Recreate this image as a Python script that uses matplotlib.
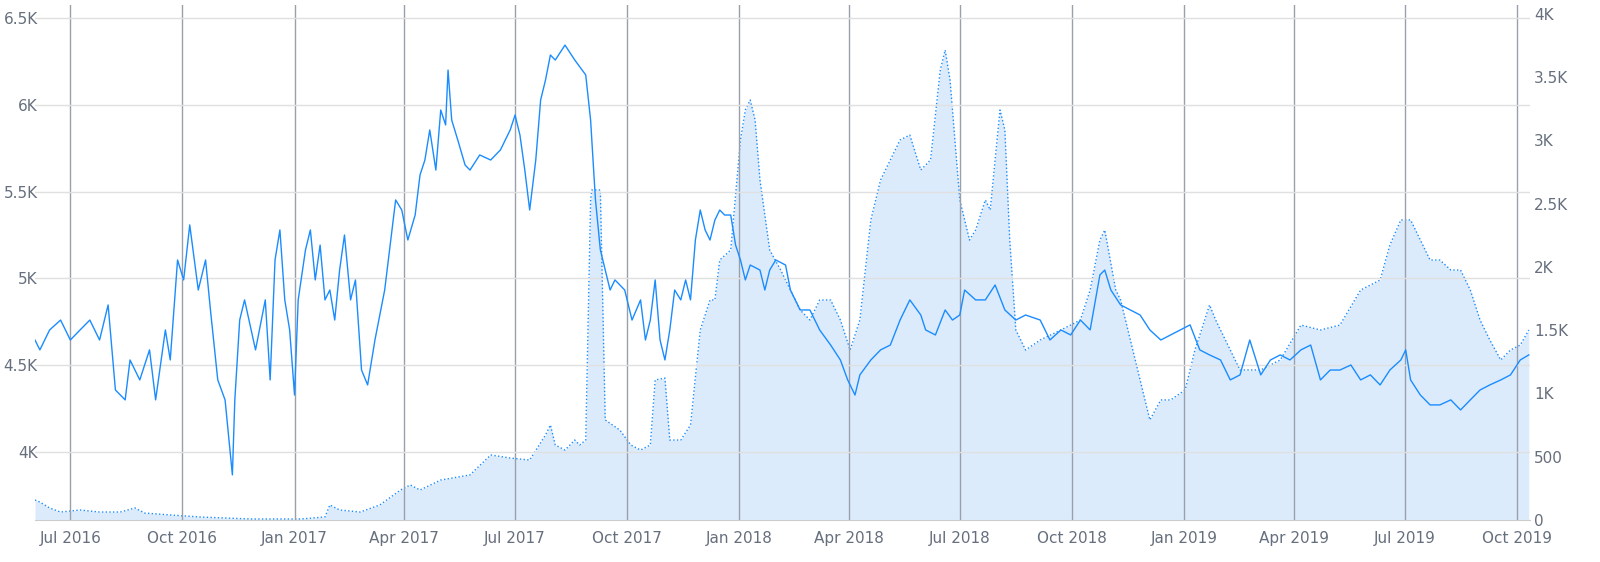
import pandas as pd
import matplotlib.pyplot as plt
import matplotlib.dates as mdates
from matplotlib.ticker import FixedLocator

start = pd.Timestamp("2016-06-02")

# solid line (left axis): days since start, value
line_days = [0, 4, 12, 21, 29, 37, 45, 53, 60, 66, 74, 78, 86, 94, 99, 107, 111, 117, 122, 127,
             134, 140, 144, 150, 156, 160, 162, 164, 168, 172, 181, 189, 193, 197, 201, 205, 209,
             213, 216, 222, 226, 230, 234, 238, 242, 246, 250, 254, 259, 263, 268, 273, 279, 287,
             291, 296, 301, 306, 312, 316, 320, 324, 329, 333, 337, 339, 342, 347, 353, 357, 365,
             374, 382, 390, 394, 398, 402, 406, 411, 415, 419, 423, 427, 435, 443, 452, 456, 460,
             464, 468, 472, 476, 484, 490, 497, 501, 505, 509, 513, 517, 521, 525, 530, 534, 538,
             542, 546, 550, 554, 558, 562, 566, 571, 575, 579, 583, 587, 595, 599, 603, 608, 616,
             620, 624, 628, 636, 644, 653, 661, 667, 673, 677, 686, 694, 702, 710, 718, 727, 731,
             739, 747, 753, 759, 763, 772, 780, 788, 796, 805, 813, 825, 833, 842, 850, 858, 866,
             874, 878, 883, 891, 899, 907, 915, 924, 932, 940, 948, 956, 964, 973, 981, 989, 997,
             1006, 1014, 1022, 1030, 1039, 1047, 1055, 1063, 1071, 1080, 1088, 1096, 1104, 1112,
             1121, 1125, 1129, 1137, 1145, 1153, 1162, 1170, 1178, 1186, 1194, 1203, 1211, 1219, 1226]
line_vals = [4645, 4588, 4703, 4760, 4645, 4703, 4760, 4645, 4847, 4357, 4300, 4530, 4415, 4588,
             4300, 4703, 4530, 5106, 4991, 5308, 4933, 5106, 4818, 4415, 4300, 4012, 3868, 4300,
             4760, 4876, 4588, 4876, 4415, 5106, 5279, 4876, 4703, 4328, 4876, 5164, 5279, 4991,
             5192, 4876, 4933, 4760, 5048, 5250, 4876, 4991, 4472, 4386, 4645, 4933, 5164, 5452,
             5394, 5221, 5365, 5596, 5682, 5855, 5624, 5970, 5884, 6200, 5912, 5797, 5653, 5624,
             5711, 5682, 5740, 5855, 5941, 5826, 5624, 5394, 5682, 6028, 6143, 6287, 6258, 6344,
             6258, 6172, 5912, 5452, 5164, 5048, 4933, 4991, 4933, 4760, 4876, 4645, 4760, 4991,
             4645, 4530, 4703, 4933, 4876, 4991, 4876, 5221, 5394, 5279, 5221, 5336, 5394, 5365,
             5365, 5192, 5106, 4991, 5077, 5048, 4933, 5048, 5106, 5077, 4933, 4876, 4818, 4818,
             4703, 4616, 4530, 4415, 4328, 4444, 4530, 4588, 4616, 4760, 4876, 4789, 4703, 4674,
             4818, 4760, 4789, 4933, 4876, 4876, 4962, 4818, 4760, 4789, 4760, 4645, 4703, 4674,
             4760, 4703, 5020, 5048, 4933, 4847, 4818, 4789, 4703, 4645, 4674, 4703, 4732, 4588,
             4559, 4530, 4415, 4444, 4645, 4444, 4530, 4559, 4530, 4588, 4616, 4415, 4472, 4472,
             4501, 4415, 4444, 4386, 4472, 4530, 4588, 4415, 4328, 4271, 4271, 4300, 4242, 4300,
             4357, 4386, 4415, 4444, 4530, 4559]

# dotted area (right axis)
area_days = [0, 4, 12, 21, 37, 53, 70, 82, 90, 111, 135, 177, 218, 238, 242, 250, 267, 283, 300,
             308, 316, 333, 357, 374, 390, 406, 419, 423, 427, 435, 443, 447, 452, 456, 457, 464,
             468, 480, 489, 497, 505, 509, 517, 521, 530, 538, 546, 554, 558, 562, 571, 579, 583,
             587, 591, 595, 603, 612, 620, 628, 636, 644, 653, 661, 669, 677, 686, 694, 702, 710,
             718, 727, 735, 743, 747, 751, 759, 767, 772, 780, 784, 792, 796, 800, 805, 813, 825,
             842, 858, 866, 874, 878, 887, 891, 899, 907, 915, 924, 932, 944, 952, 960, 964, 969,
             977, 989, 1006, 1022, 1039, 1055, 1071, 1088, 1104, 1112, 1121, 1129, 1137, 1145,
             1153, 1162, 1170, 1178, 1186, 1194, 1203, 1211, 1219, 1226]
area_vals = [158, 142, 95, 63, 79, 63, 63, 95, 55, 40, 24, 8, 8, 24, 119, 79, 63, 119, 237, 277,
             237, 316, 356, 514, 490, 474, 672, 751, 593, 553, 632, 593, 632, 2530, 2609, 2609,
             791, 711, 593, 553, 593, 1107, 1122, 632, 632, 751, 1502, 1739, 1739, 2055, 2134,
             3004, 3241, 3320, 3162, 2688, 2134, 1976, 1818, 1660, 1581, 1739, 1739, 1581, 1344,
             1581, 2372, 2688, 2846, 3004, 3043, 2767, 2846, 3557, 3715, 3478, 2530, 2213, 2292,
             2530, 2451, 3241, 3083, 2213, 1502, 1344, 1423, 1502, 1581, 1818, 2213, 2292, 1818,
             1739, 1423, 1107, 791, 949, 949, 1028, 1344, 1581, 1700, 1581, 1423, 1186, 1186,
             1265, 1541, 1502, 1541, 1818, 1897, 2174, 2372, 2372, 2213, 2055, 2055, 1976, 1976,
             1818, 1581, 1423, 1265, 1344, 1383, 1502]

left_ticks = [4000, 4500, 5000, 5500, 6000, 6500]
left_labels = ["4K", "4.5K", "5K", "5.5K", "6K", "6.5K"]
right_ticks = [0, 500, 1000, 1500, 2000, 2500, 3000, 3500, 4000]
right_labels = ["0", "500", "1K", "1.5K", "2K", "2.5K", "3K", "3.5K", "4K"]
month_ticks = pd.date_range("2016-07-01", "2019-10-01", freq="3MS")

line_x = start + pd.to_timedelta(line_days, unit="D")
area_x = start + pd.to_timedelta(area_days, unit="D")

fig = plt.figure(figsize=(16, 5.62), dpi=100)
ax = fig.add_axes([35 / 1600, 42 / 562, 1495 / 1600, 515 / 562])
ax2 = ax.twinx()

ax2.fill_between(area_x, area_vals, 0, color="#dcebfb", lw=0)
ax2.plot(area_x, area_vals, color="#1a8cff", lw=1, ls=":")
ax.plot(line_x, line_vals, color="#1a8cff", lw=1, zorder=5)

ax.set_zorder(ax2.get_zorder() + 1)
ax.patch.set_visible(False)

ax.set_xlim(start, pd.Timestamp("2019-10-12"))
ax.set_ylim(3608, 6575)
ax2.set_ylim(0, 4071)

ax.set_yticks(left_ticks)
ax.set_yticklabels(left_labels)
ax2.set_yticks(right_ticks)
ax2.set_yticklabels(right_labels)
ax.xaxis.set_major_locator(FixedLocator(mdates.date2num(month_ticks)))
ax.set_xticklabels([d.strftime("%b %Y") for d in month_ticks])

ax.grid(axis="y", color="#e0e0e0", lw=1)
ax.grid(axis="x", color="#9aa0ab", lw=1)
ax.set_axisbelow(True)
for a in (ax, ax2):
    for s in a.spines.values():
        s.set_visible(False)
    a.tick_params(length=0, colors="#666f7d", labelsize=11)
ax.tick_params(axis="y", pad=-2)
ax.tick_params(axis="x", pad=8)
ax2.tick_params(axis="y", pad=3)
ax.spines["bottom"].set_visible(True)
ax.spines["bottom"].set_color("#cccccc")

fig.savefig("out.png")
